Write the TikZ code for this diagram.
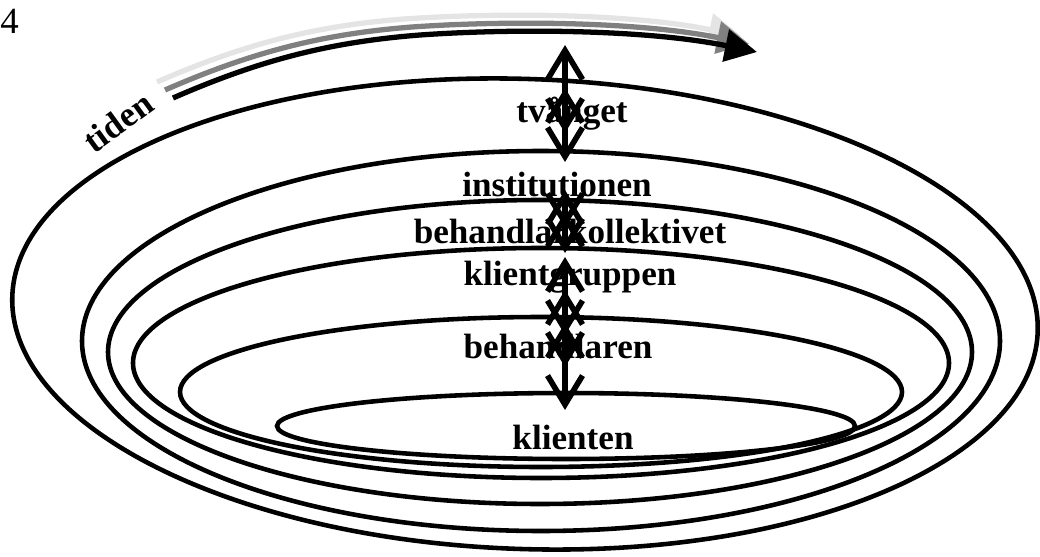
\documentclass[tikz,border=0pt]{standalone}
\usepackage{fontspec}
\setmainfont{Liberation Serif}
\usepackage{tikz}
\usetikzlibrary{arrows.meta}
\definecolor{shadelight}{RGB}{228,228,228}
\definecolor{shademid}{RGB}{128,128,128}

\tikzset{
  ring/.style={draw=black, line width=2.6pt},
  level/.style={font=\fontsize{20pt}{22pt}\selectfont\bfseries, inner sep=0pt, anchor=base},
  dblarrow/.style={line width=3.2pt, line cap=round, {Straight Barb[length=0.58cm,width=0.7cm]}-{Straight Barb[length=0.58cm,width=0.7cm]}},
  timeline/.style={line width=3pt, -{Triangle[length=0.64cm,width=0.64cm]}}
}

\begin{document}
\begin{tikzpicture}[x=0.02cm, y=-0.02cm]
\useasboundingbox (0,0) rectangle (1040,557);

% time arrow with shadows
\draw[timeline, shadelight, shift={(-16,-16)}] (173,98) .. controls (260,60) and (330,42) .. (420,35) .. controls (520,28) and (650,30) .. (757,52);
\draw[timeline, shademid, shift={(-8,-8)}] (173,98) .. controls (260,60) and (330,42) .. (420,35) .. controls (520,28) and (650,30) .. (757,52);
\draw[timeline, black] (173,98) .. controls (260,60) and (330,42) .. (420,35) .. controls (520,28) and (650,30) .. (757,52);

% rings
\draw[ring, rotate around={-2:(525,314)}] (525,314) ellipse (513 and 235);
\draw[ring] (541,341) ellipse (459 and 190);
\draw[ring] (540,352) ellipse (432 and 152);
\draw[ring] (541,363) ellipse (408 and 115);
\draw[ring] (541,392) ellipse (361 and 75);
\draw[ring] (566,426) ellipse (289 and 33);

% labels
\node[level] (tvang) at (572,123) {tvånget};
\node[level] (inst) at (557,196) {institutionen};
\node[level] (kollektiv) at (570,243) {behandlarkollektivet};
\node[level] (grupp) at (570,285) {klientgruppen};
\node[level] (behandlare) at (558,358) {behandlaren};
\node[level] (klient) at (573,449) {klienten};
\node[level, anchor=center, rotate=36] (tid) at (118,122) {tiden};
\node[font=\fontsize{21pt}{24pt}\selectfont, inner sep=0pt, anchor=base west] (nr) at (0,34) {4};

% arrows between the levels
\coordinate (up1) at (565,45);  \coordinate (dn1) at (565,133);
\coordinate (up2) at (565,88);  \coordinate (dn2) at (565,162);
\coordinate (up3) at (565,190); \coordinate (dn3) at (565,228);
\coordinate (up4) at (565,212); \coordinate (dn4) at (565,253);
\coordinate (up5) at (565,257); \coordinate (dn5) at (565,335);
\coordinate (up6) at (565,290); \coordinate (dn6) at (565,367);
\coordinate (up7) at (565,323); \coordinate (dn7) at (565,410);
\draw[dblarrow] (up1) -- (dn1);
\draw[dblarrow] (up2) -- (dn2);
\draw[dblarrow] (up3) -- (dn3);
\draw[dblarrow] (up4) -- (dn4);
\draw[dblarrow] (up5) -- (dn5);
\draw[dblarrow] (up6) -- (dn6);
\draw[dblarrow] (up7) -- (dn7);

\end{tikzpicture}
\end{document}
